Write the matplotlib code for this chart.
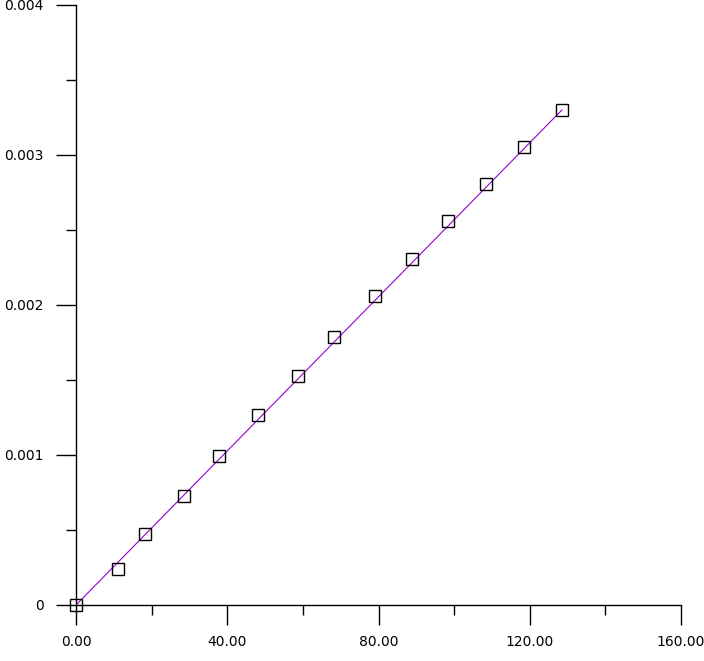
import matplotlib
matplotlib.use("Agg")
import matplotlib.pyplot as plt
from matplotlib.ticker import FixedLocator, MultipleLocator, FuncFormatter

# measured points
x_pts = [0.0, 11.1, 18.3, 28.6, 37.8, 48.1, 58.7, 68.2, 79.1, 88.9, 98.4, 108.4, 118.5, 128.5]
y_pts = [0.0, 0.00024, 0.000473, 0.000727, 0.000993, 0.00127, 0.00153, 0.00179,
         0.00206, 0.00231, 0.00256, 0.00281, 0.00305, 0.0033]

# fitted line
fit_x = [0.0, 128.5]
fit_y = [0.0, 0.0033]

x_ticks = [0, 40, 80, 120, 160]
y_ticks = [0, 0.001, 0.002, 0.003, 0.004]

plt.rcParams["font.family"] = ["DejaVu Sans"]

fig = plt.figure(figsize=(7.04, 6.61), dpi=100)
ax = fig.add_axes([76 / 704, 1 - 605 / 661, (681 - 76) / 704, 600 / 661])

ax.plot(fit_x, fit_y, color="#9400D3", lw=0.8, zorder=2)
ax.plot(x_pts, y_pts, ls="none", marker="s", ms=9, mfc="none", mec="black",
        mew=1.0, zorder=3, clip_on=False)

ax.set_xlim(0, 160)
ax.set_ylim(0, 0.004)
ax.xaxis.set_major_locator(FixedLocator(x_ticks))
ax.xaxis.set_minor_locator(MultipleLocator(20))
ax.yaxis.set_major_locator(FixedLocator(y_ticks))
ax.yaxis.set_minor_locator(MultipleLocator(0.0005))
ax.xaxis.set_major_formatter(FuncFormatter(lambda v, p: f"{v:.2f}"))
ax.yaxis.set_major_formatter(FuncFormatter(lambda v, p: "0" if v == 0 else f"{v:.3f}"))

for s in ["top", "right"]:
    ax.spines[s].set_visible(False)
for s in ["left", "bottom"]:
    ax.spines[s].set_linewidth(1.0)

ax.tick_params(which="major", direction="out", length=14.4, width=1.0, labelsize=10)
ax.tick_params(which="minor", direction="out", length=7.2, width=1.0)
ax.tick_params(axis="y", which="major", pad=9)
ax.tick_params(axis="x", which="major", pad=7)

fig.savefig("out.png", dpi=100)
